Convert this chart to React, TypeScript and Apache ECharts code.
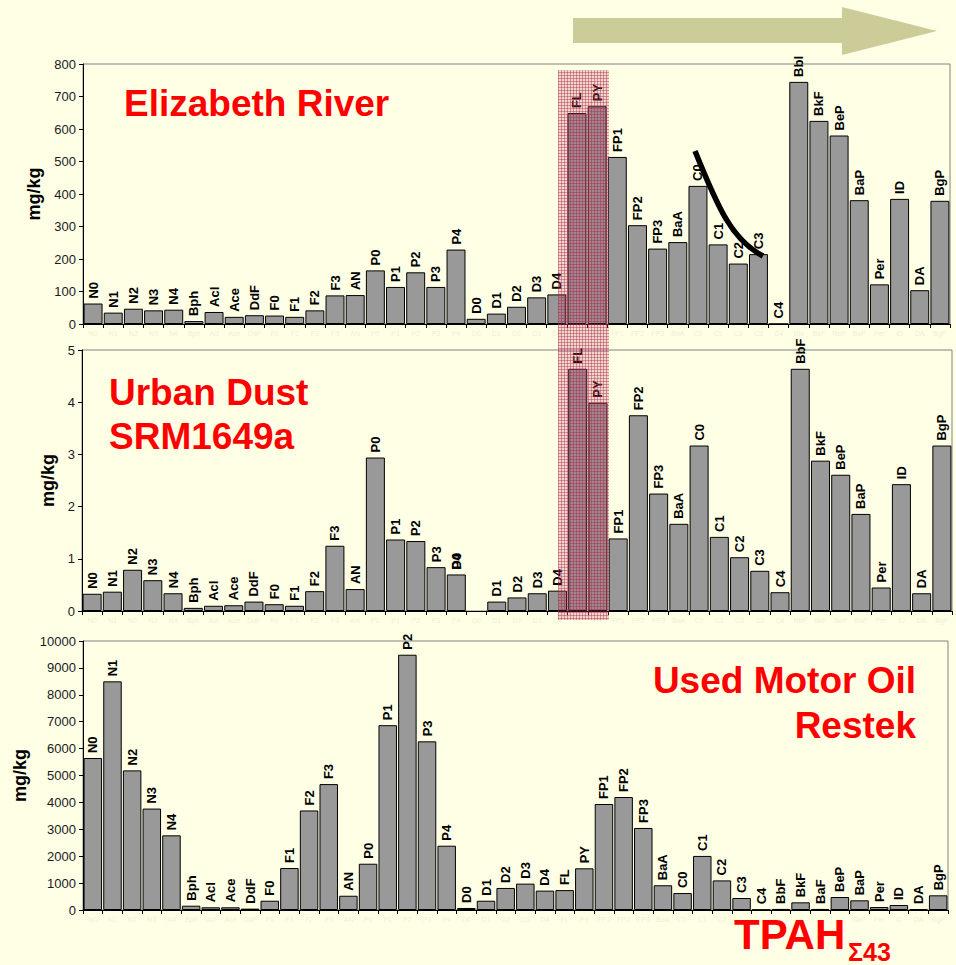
import React, { useEffect, useRef } from 'react';
import * as echarts from 'echarts';

const FONT = 'Arial, "Liberation Sans", Helvetica, sans-serif';

const riverLabels = ['N0','N1','N2','N3','N4','Bph','Acl','Ace','DdF','F0','F1','F2','F3','AN','P0','P1','P2','P3','P4','D0','D1','D2','D3','D4','FL','PY','FP1','FP2','FP3','BaA','C0','C1','C2','C3','C4','Bbl','BkF','BeP','BaP','Per','ID','DA','BgP'];
const riverValues = [63,35,47,42,44,9,37,22,27,26,22,42,88,89,165,114,159,114,229,16,32,53,82,91,649,670,514,304,232,252,425,245,186,215,0,745,625,580,381,122,385,104,379];

const dustLabels = ['N0','N1','N2','N3','N4','Bph','Acl','Ace','DdF','F0','F1','F2','F3','AN','P0','P1','P2','P3','P4','D0','D1','D2','D3','D4','FL','PY','FP1','FP2','FP3','BaA','C0','C1','C2','C3','C4','BbF','BkF','BeP','BaP','Per','ID','DA','BgP'];
const dustValues = [0.33,0.37,0.79,0.59,0.34,0.06,0.10,0.11,0.18,0.13,0.10,0.38,1.25,0.42,2.94,1.37,1.34,0.84,0.70,null,0.18,0.26,0.34,0.39,4.64,3.99,1.39,3.75,2.25,1.67,3.17,1.42,1.03,0.77,0.36,4.64,2.88,2.61,1.86,0.45,2.43,0.34,3.17];
// label of the missing D0 bar is drawn over the P4 label in the original
const dustOverlapValues = dustValues.map((v, i) => (i === 18 ? v : null));

const oilLabels = ['N0','N1','N2','N3','N4','Bph','Acl','Ace','DdF','F0','F1','F2','F3','AN','P0','P1','P2','P3','P4','D0','D1','D2','D3','D4','FL','PY','FP1','FP2','FP3','BaA','C0','C1','C2','C3','C4','BbF','BkF','BaF','BeP','BaP','Per','ID','DA','BgP'];
const oilValues = [5650,8500,5190,3770,2775,160,100,100,50,345,1560,3700,4680,530,1720,6870,9490,6270,2390,75,345,820,980,720,740,1550,3940,4200,3050,920,630,2010,1100,446,10,40,285,40,483,360,110,186,30,546];
// faint axis labels hidden behind the "TPAH" caption in the original
const oilHiddenAxisLabels = ['C3','C4','BbF','BkF','BaF','BeP'];

const BG = '#ffffe6';

const PATTERN_SVG =
  "<svg xmlns='http://www.w3.org/2000/svg' width='3' height='3'>" +
  "<rect width='3' height='3' fill='rgba(200,90,120,0.10)'/>" +
  "<rect width='3' height='1' fill='rgba(170,30,70,0.40)'/>" +
  "<rect width='1' height='3' fill='rgba(170,30,70,0.40)'/></svg>";
const PATTERN_URL = 'data:image/svg+xml;charset=utf-8,' + encodeURIComponent(PATTERN_SVG);

function barLabel(labels: string[]) {
  return {
    show: true,
    position: 'top',
    rotate: 90,
    align: 'left',
    verticalAlign: 'middle',
    distance: 5,
    color: '#000',
    fontFamily: FONT,
    fontWeight: 'bold',
    fontSize: 13,
    formatter: (p: any) => labels[p.dataIndex],
  };
}

function xAxis(idx: number, labels: string[], hidden: string[] = []) {
  return {
    type: 'category',
    gridIndex: idx,
    data: labels,
    axisLine: { show: true, lineStyle: { color: '#000', width: 1 } },
    axisTick: { show: true, length: 4, lineStyle: { color: '#000' } },
    axisLabel: {
      show: true, interval: 0, fontSize: 7, color: '#efefd4', fontFamily: FONT, margin: 6,
      formatter: (v: string) => (hidden.includes(v) ? '' : v),
    },
    splitLine: { show: false },
  };
}

function yAxis(idx: number, max: number, interval: number, nameGap: number) {
  return {
    type: 'value',
    gridIndex: idx,
    min: 0,
    max,
    interval,
    name: 'mg/kg',
    nameLocation: 'middle',
    nameGap,
    nameTextStyle: { fontFamily: FONT, fontWeight: 'bold', fontSize: 18, color: '#000' },
    axisLine: { show: true, lineStyle: { color: '#000', width: 1 } },
    axisTick: { show: true, length: 4, lineStyle: { color: '#000' } },
    axisLabel: { fontSize: 13, color: '#1a1a1a', fontFamily: FONT, margin: 7, formatter: (v: number) => String(v) },
    splitLine: { show: false },
  };
}

const barStyle = { color: '#999999', borderColor: '#000', borderWidth: 1 };

export default function App() {
  const ref = useRef<HTMLDivElement>(null);
  useEffect(() => {
    document.body.style.margin = '0';
    document.body.style.background = BG;
    const chart = echarts.init(ref.current!, null, { renderer: 'svg' });
    const redText = { fill: '#ff0000', fontFamily: FONT, fontWeight: 'bold', fontSize: 37 };
    chart.setOption({
      animation: false,
      backgroundColor: BG,
      grid: [
        { left: 83, right: 6, top: 64, height: 260, show: true, borderColor: '#808080', borderWidth: 1, backgroundColor: 'transparent' },
        { left: 82, right: 4, top: 350, height: 261, show: true, borderColor: '#808080', borderWidth: 1, backgroundColor: 'transparent' },
        { left: 83, right: 8, top: 641, height: 269, show: true, borderColor: '#808080', borderWidth: 1, backgroundColor: 'transparent' },
      ],
      xAxis: [xAxis(0, riverLabels), xAxis(1, dustLabels), xAxis(2, oilLabels, oilHiddenAxisLabels)],
      yAxis: [yAxis(0, 800, 100, 31), yAxis(1, 5, 1, 15), yAxis(2, 10000, 1000, 42)],
      series: [
        { type: 'bar', xAxisIndex: 0, yAxisIndex: 0, data: riverValues, barCategoryGap: '6%', itemStyle: barStyle, label: barLabel(riverLabels) },
        { type: 'bar', xAxisIndex: 1, yAxisIndex: 1, data: dustValues, barCategoryGap: '6%', barGap: '-100%', itemStyle: barStyle, label: barLabel(dustLabels) },
        { type: 'bar', xAxisIndex: 1, yAxisIndex: 1, data: dustOverlapValues, barCategoryGap: '6%', barGap: '-100%', itemStyle: { color: 'transparent', borderWidth: 0 }, label: { ...barLabel(dustLabels), formatter: () => 'D0' }, z: 3 },
        { type: 'bar', xAxisIndex: 2, yAxisIndex: 2, data: oilValues, barCategoryGap: '6%', itemStyle: barStyle, label: barLabel(oilLabels) },
      ],
      graphic: [
        { type: 'polygon', z: 50, shape: { points: [[573, 18], [842, 18], [842, 7], [937, 31], [842, 55], [842, 43], [573, 43]] }, style: { fill: '#cccc99' } },
        { type: 'rect', z: 50, shape: { x: 558, y: 70, width: 51, height: 550 }, style: { fill: 'rgba(185,40,85,0.12)' } },
        { type: 'rect', z: 51, shape: { x: 558, y: 70, width: 51, height: 550 }, style: { fill: { image: PATTERN_URL, repeat: 'repeat' } } },
        { type: 'bezierCurve', z: 60, shape: { x1: 695, y1: 151, cpx1: 718, cpy1: 208, cpx2: 732, cpy2: 240, x2: 763, y2: 256 }, style: { stroke: '#000', lineWidth: 5.5, fill: 'none' } },
        { type: 'text', z: 60, x: 124, y: 103, style: { ...redText, text: 'Elizabeth River', textVerticalAlign: 'middle' } },
        { type: 'text', z: 60, x: 109, y: 392, style: { ...redText, text: 'Urban Dust', textVerticalAlign: 'middle' } },
        { type: 'text', z: 60, x: 109, y: 436, style: { ...redText, text: 'SRM1649a', textVerticalAlign: 'middle' } },
        { type: 'text', z: 60, x: 916, y: 680, style: { ...redText, text: 'Used Motor Oil', textAlign: 'right', textVerticalAlign: 'middle' } },
        { type: 'text', z: 60, x: 916, y: 725, style: { ...redText, text: 'Restek', textAlign: 'right', textVerticalAlign: 'middle' } },
        { type: 'text', z: 60, x: 734, y: 934, style: { ...redText, fontSize: 42, text: 'TPAH', textVerticalAlign: 'middle' } },
        { type: 'text', z: 60, x: 848, y: 952, style: { ...redText, fontSize: 25, text: 'Σ43', textVerticalAlign: 'middle' } },
      ],
    });
    return () => chart.dispose();
  }, []);
  return <div ref={ref} style={{ width: 956, height: 965 }} />;
}
